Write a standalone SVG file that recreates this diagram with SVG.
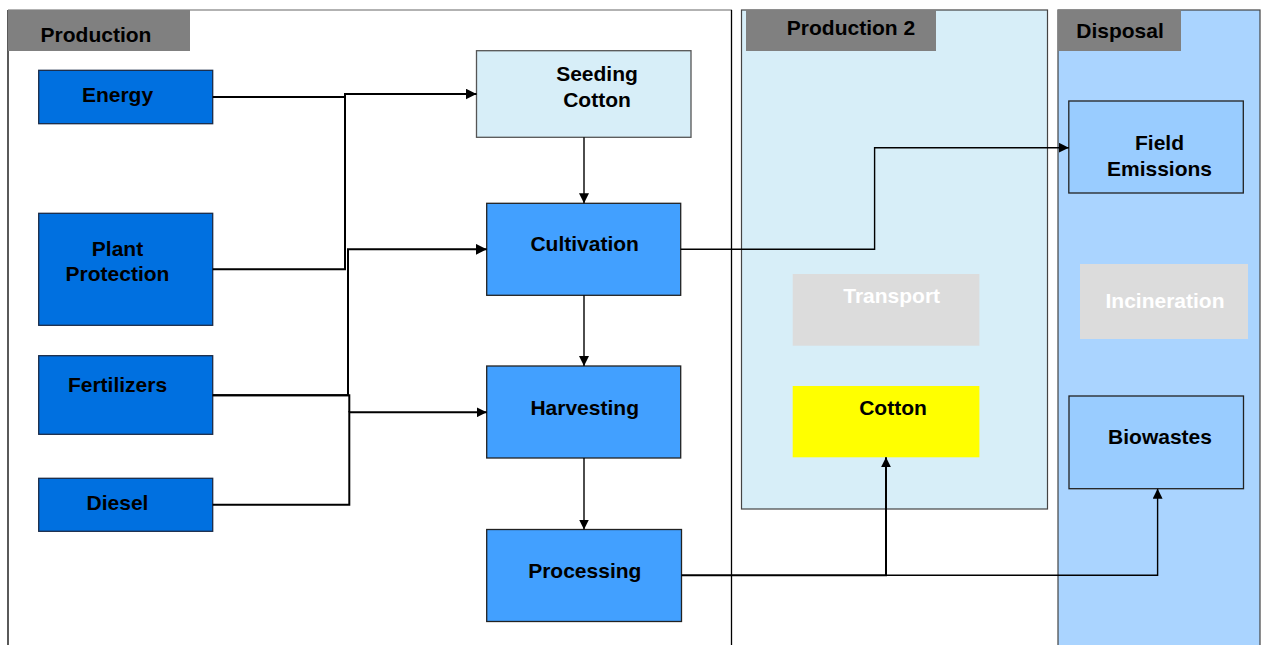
<svg xmlns="http://www.w3.org/2000/svg" width="1266" height="645" viewBox="0 0 1266 645">
<defs>
<style>
text{font-family:"Liberation Sans",Arial,sans-serif;font-weight:bold;font-size:21px;fill:#000;text-anchor:middle}
.title{fill:#808080}
.input{fill:#0070E0;stroke:#1A2B48;stroke-width:1.3}
.step{fill:#42A0FF;stroke:#222;stroke-width:1.3}
.light{fill:#D7EEF8;stroke:#555;stroke-width:1.3}
.disp{fill:#99CCFF;stroke:#222;stroke-width:1.3}
.ghost{fill:#DCDCDC}
.ghost-t{fill:#fff}
.conn{fill:none;stroke:#000;stroke-width:2}
.thin{fill:none;stroke:#000;stroke-width:1.4}
</style>
<marker id="ah" viewBox="0 0 10 10" refX="10" refY="5" markerWidth="11" markerHeight="11" markerUnits="userSpaceOnUse" orient="auto">
<path d="M0,0 L10,5 L0,10 z" fill="#000"/>
</marker>
<marker id="ahs" viewBox="0 0 10 10" refX="10" refY="5" markerWidth="10" markerHeight="10" markerUnits="userSpaceOnUse" orient="auto">
<path d="M0,0 L10,5 L0,10 z" fill="#000"/>
</marker>
</defs>

<g id="panel-production">
<line x1="8" y1="10" x2="732" y2="10" stroke="#666" stroke-width="1.2"/>
<line x1="8" y1="10" x2="8" y2="645" stroke="#000" stroke-width="1.3"/>
<line x1="731.5" y1="10" x2="731.5" y2="645" stroke="#000" stroke-width="1.3"/>
<rect class="title" x="8" y="10" width="182" height="41"/>
<text x="96" y="42">Production</text>
</g>

<g id="panel-production2">
<rect x="741.5" y="10" width="306" height="499" fill="#D7EEF8" stroke="#444" stroke-width="1.2"/>
<rect class="title" x="746" y="10" width="190" height="41"/>
<text x="851" y="35">Production 2</text>
</g>

<g id="panel-disposal">
<rect x="1058" y="10" width="202" height="640" fill="#AAD4FF" stroke="#444" stroke-width="1.2"/>
<rect class="title" x="1058" y="10" width="123" height="41"/>
<text x="1120" y="37.5">Disposal</text>
</g>

<g id="energy"><rect class="input" x="38.7" y="70.3" width="174" height="53.4"/><text x="117.5" y="101.7">Energy</text></g>
<g id="plant-protection"><rect class="input" x="38.7" y="213.3" width="174" height="112"/><text x="117.5" y="255.7">Plant</text><text x="117.5" y="281">Protection</text></g>
<g id="fertilizers"><rect class="input" x="38.7" y="355.7" width="174" height="78.6"/><text x="117.5" y="391.7">Fertilizers</text></g>
<g id="diesel"><rect class="input" x="38.7" y="478.3" width="174" height="53"/><text x="117.5" y="510">Diesel</text></g>

<g id="seeding-cotton"><rect class="light" x="476.5" y="50.7" width="214.5" height="86.6"/><text x="597" y="81">Seeding</text><text x="597" y="106.5">Cotton</text></g>
<g id="cultivation"><rect class="step" x="486.7" y="203.3" width="194" height="92"/><text x="584.7" y="251">Cultivation</text></g>
<g id="harvesting"><rect class="step" x="486.7" y="366" width="194" height="92"/><text x="584.7" y="415">Harvesting</text></g>
<g id="processing"><rect class="step" x="486.7" y="529.5" width="194.8" height="92"/><text x="584.8" y="577.7">Processing</text></g>

<g id="transport"><rect class="ghost" x="792.7" y="274" width="186.7" height="71.7"/><text class="ghost-t" x="891.7" y="302.7">Transport</text></g>
<g id="cotton"><rect x="792.7" y="386" width="186.7" height="71.3" fill="#FFFF00"/><text x="893" y="415">Cotton</text></g>

<g id="field-emissions"><rect class="disp" x="1068.8" y="101" width="174.5" height="92"/><text x="1159.5" y="150">Field</text><text x="1159.5" y="175.7">Emissions</text></g>
<g id="incineration"><rect class="ghost" x="1080" y="264" width="168" height="75"/><text class="ghost-t" x="1165" y="308">Incineration</text></g>
<g id="biowastes"><rect class="disp" x="1069" y="396" width="174.5" height="92.7"/><text x="1160" y="444.3">Biowastes</text></g>

<g id="connectors">
<path class="conn" d="M212.7,97 H345 V94 H476.5" marker-end="url(#ah)"/>
<path class="conn" d="M212.7,269.3 H345 V94"/>
<path class="conn" d="M212.7,395.3 H348 V249.3 H486.7" marker-end="url(#ah)"/>
<path class="conn" d="M212.7,395.3 H349.3 V412.3"/>
<path class="conn" d="M212.7,504.7 H349.3 V412.3 H486.7" marker-end="url(#ahs)"/>
<path class="thin" d="M584,137.3 V203.3" marker-end="url(#ahs)"/>
<path class="thin" d="M584,295.3 V366" marker-end="url(#ahs)"/>
<path class="thin" d="M584,458 V529.5" marker-end="url(#ahs)"/>
<path class="thin" d="M680.7,249.3 H874.6 V147.7 H1068.8" marker-end="url(#ahs)"/>
<path class="conn" d="M681.5,575.3 H886 V457.3" marker-end="url(#ahs)"/>
<path class="thin" d="M886,575.3 H1157.6 V488.7" marker-end="url(#ahs)"/>
</g>
</svg>
